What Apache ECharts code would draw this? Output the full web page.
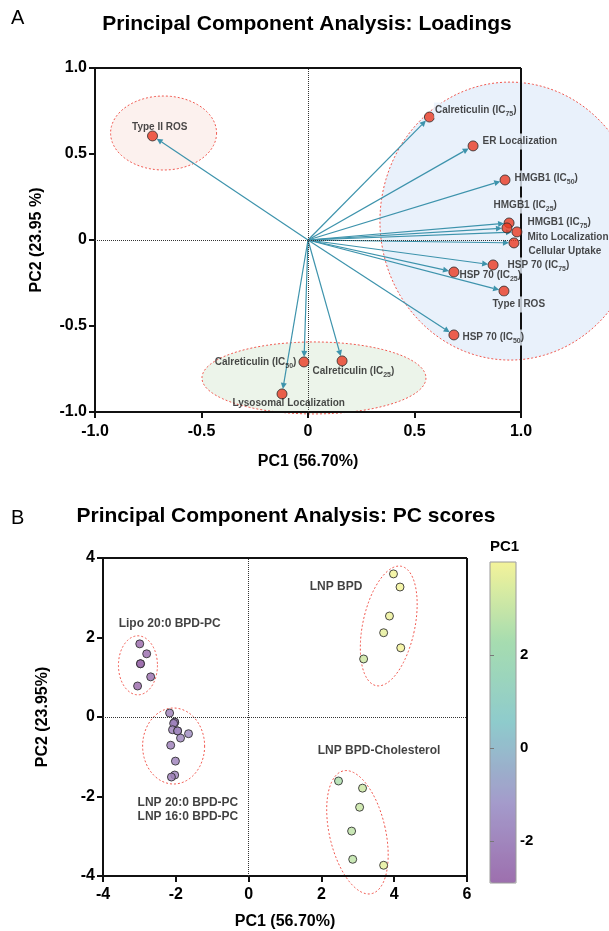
<!DOCTYPE html>
<html><head><meta charset="utf-8">
<script src="https://cdn.jsdelivr.net/npm/echarts@6/dist/echarts.min.js"></script>
<style>html,body{margin:0;padding:0;background:#fff}#c{width:609px;height:931px}</style>
</head><body><div id="c"></div>
<script>
// ---------- Panel A: loadings ----------
const loadingNames = ['Type II ROS','Calreticulin (IC75)','ER Localization','HMGB1 (IC50)','HMGB1 (IC25)','HMGB1 (IC75)','Mito Localization','Cellular Uptake','HSP 70 (IC75)','HSP 70 (IC25)','Type I ROS','HSP 70 (IC50)','Calreticulin (IC50)','Calreticulin (IC25)','Lysosomal Localization'];
const loadingPC1 = [-0.73, 0.57, 0.775, 0.925, 0.944, 0.934, 0.981, 0.967, 0.869, 0.685, 0.92, 0.685, -0.019, 0.16, -0.122];
const loadingPC2 = [0.605, 0.715, 0.547, 0.349, 0.099, 0.07, 0.047, -0.017, -0.145, -0.186, -0.297, -0.552, -0.709, -0.703, -0.895];
const loadRange = [-1, 1];

// ---------- Panel B: PC scores ----------
const lipoPC1 = [-2.99, -2.80, -2.97, -2.97, -2.69, -3.05];
const lipoPC2 = [1.84, 1.59, 1.34, 1.34, 1.01, 0.78];
const lnpPC1 = [-2.17, -2.03, -2.03, -2.06, -2.09, -1.95, -1.95, -1.65, -1.87, -2.14, -2.01, -2.03, -2.12];
const lnpPC2 = [0.10, -0.13, -0.13, -0.16, -0.32, -0.35, -0.35, -0.42, -0.53, -0.71, -1.11, -1.46, -1.51];
const bpdPC1 = [3.98, 4.16, 3.87, 3.71, 4.18, 3.16];
const bpdPC2 = [3.60, 3.27, 2.54, 2.12, 1.74, 1.46];
const cholPC1 = [2.47, 3.13, 3.05, 2.83, 2.86, 3.71];
const cholPC2 = [-1.61, -1.79, -2.27, -2.87, -3.58, -3.73];
const scoreXRange = [-4, 6];
const scoreYRange = [-4, 4];
const colorbarTicks = [-2, 0, 2];
const colorbarRange = [-2.9, 4];
const clusterNames = ['Lipo 20:0 BPD-PC', 'LNP 20:0 BPD-PC\nLNP 16:0 BPD-PC', 'LNP BPD', 'LNP BPD-Cholesterol'];

// ---------- annotation layout (kept apart from data) ----------
// [dx, dy, align, background] relative to the point centre, in pixels
const labelLayout = {
  'Type II ROS': [-20, -8, 'left', false],
  'Calreticulin (IC75)': [5, -6, 'left', true],
  'ER Localization': [9, -4, 'left', true],
  'HMGB1 (IC50)': [9, -1, 'left', true],
  'HMGB1 (IC25)': [-16, -17, 'left', true],
  'HMGB1 (IC75)': [20, -5, 'left', true],
  'Mito Localization': [10, 6, 'left', true],
  'Cellular Uptake': [14, 9, 'left', true],
  'HSP 70 (IC75)': [14, 1, 'left', true],
  'HSP 70 (IC25)': [6, 4, 'left', false],
  'Type I ROS': [-12, 14, 'left', true],
  'HSP 70 (IC50)': [8, 3, 'left', true],
  'Calreticulin (IC50)': [-7, 1, 'right', false],
  'Calreticulin (IC25)': [-29, 11, 'left', false],
  'Lysosomal Localization': [-49, 10, 'left', false]
};
const clusterLabelAnchors = [[-3.57, 2.34], [-3.05, -2.32], [1.68, 3.27], [1.90, -0.86]];
const loadEllipses = [
  {cx: -0.678, cy: 0.622, rx: 53, ry: 37, rot: 0, fill: '#fcf1ee'},
  {cx: 0.948, cy: 0.11, rx: 130, ry: 139, rot: 0, fill: '#e9f1fb'},
  {cx: 0.028, cy: -0.802, rx: 112, ry: 36, rot: 0, fill: '#ecf4ea'}
];
const scoreEllipses = [
  {cx: -3.04, cy: 1.30, rx: 19.5, ry: 29.5, rot: 0, fill: 'none'},
  {cx: -2.06, cy: -0.73, rx: 31, ry: 38, rot: 0, fill: 'none'},
  {cx: 3.85, cy: 2.29, rx: 26, ry: 61, rot: 12, fill: 'none'},
  {cx: 2.99, cy: -2.90, rx: 28, ry: 63, rot: -13, fill: 'none'}
];

const FONT = 'Liberation Sans, Arial, Helvetica, sans-serif';
const zip = (a, b) => a.map((v, i) => [v, b[i]]);

function ellipseSeries(list, xi, yi, z) {
  return {
    type: 'custom', xAxisIndex: xi, yAxisIndex: yi, z: z, silent: true, clip: false,
    data: list.map((e, i) => [e.cx, e.cy, i]),
    renderItem: function (params, api) {
      const e = list[api.value(2)];
      const c = api.coord([api.value(0), api.value(1)]);
      const a = e.rot * Math.PI / 180;
      const pts = [];
      for (let k = 0; k < 144; k++) {
        const t = k / 144 * 2 * Math.PI;
        const x = e.rx * Math.cos(t), y = e.ry * Math.sin(t);
        pts.push([c[0] + x * Math.cos(a) - y * Math.sin(a), c[1] + x * Math.sin(a) + y * Math.cos(a)]);
      }
      return {type: 'polygon', shape: {points: pts},
        style: {fill: e.fill, stroke: '#f0574e', lineWidth: 1, lineDash: [2, 2]}};
    }
  };
}

const arrowSeries = {
  type: 'custom', xAxisIndex: 0, yAxisIndex: 0, z: 3, silent: true, clip: false,
  data: zip(loadingPC1, loadingPC2),
  renderItem: function (params, api) {
    const o = api.coord([0, 0]);
    const p = api.coord([api.value(0), api.value(1)]);
    const dx = p[0] - o[0], dy = p[1] - o[1];
    const L = Math.sqrt(dx * dx + dy * dy);
    const ux = dx / L, uy = dy / L;
    const tip = [p[0] - ux * 5, p[1] - uy * 5];
    const base = [tip[0] - ux * 6, tip[1] - uy * 6];
    const nx = -uy, ny = ux;
    return {type: 'group', children: [
      {type: 'line', shape: {x1: o[0], y1: o[1], x2: base[0], y2: base[1]},
        style: {stroke: '#3d93ac', lineWidth: 1.2}},
      {type: 'polygon', shape: {points: [tip, [base[0] + nx * 3, base[1] + ny * 3], [base[0] - nx * 3, base[1] - ny * 3]]},
        style: {fill: '#3d93ac'}}
    ]};
  }
};

function richName(n) { return n.replace(/IC(\d+)/, 'IC{s|$1}'); }

const PT = 10; // loading symbol size
const loadData = loadingNames.map((n, i) => {
  const l = labelLayout[n];
  return {
    name: n, value: [loadingPC1[i], loadingPC2[i]],
    label: {position: [PT / 2 + l[0], PT / 2 + l[1]], align: l[2], verticalAlign: 'middle',
      backgroundColor: l[3] ? '#e9f1fb' : 'transparent', padding: l[3] ? [1, 1] : 0}
  };
});

// dotted zero lines plus the solid top/right frame lines (above ellipse fills, below labels)
function refLines(xr, yr) {
  const frame = {type: 'solid', color: '#111', width: 2};
  return {
    silent: true, symbol: ['none', 'none'], label: {show: false}, animation: false,
    lineStyle: {type: 'dotted', color: '#333', width: 1},
    data: [{xAxis: 0}, {yAxis: 0}, {xAxis: xr[1], lineStyle: frame}, {yAxis: yr[1], lineStyle: frame}]
  };
}

const tickLabelStyle = {fontSize: 16, fontWeight: 'bold', color: '#000', fontFamily: FONT};
const nameStyle = {fontSize: 16, fontWeight: 'bold', color: '#000', fontFamily: FONT};
const axisLineStyle = {color: '#111', width: 2};

function mainAxis(gi, range, interval, pos, name, gap, fmt, margin) {
  return {
    type: 'value', gridIndex: gi, min: range[0], max: range[1], interval: interval, position: pos, z: 4,
    axisLine: {show: true, onZero: false, lineStyle: axisLineStyle},
    axisTick: {show: true, length: 6, lineStyle: {color: '#111', width: 2}},
    axisLabel: Object.assign({margin: margin, formatter: fmt}, tickLabelStyle),
    splitLine: {show: false},
    name: name, nameLocation: 'middle', nameGap: gap, nameTextStyle: nameStyle,
    nameRotate: (pos === 'left') ? 90 : 0
  };
}
const fmtLoad = v => (v === 0 ? '0' : v.toFixed(1));
const fmtInt = v => String(v);

const scoreStyle = {borderColor: '#2b2b2b', borderWidth: 1, opacity: 0.85};
function scoreSeries(name, xs, ys) {
  return {type: 'scatter', name: name, xAxisIndex: 1, yAxisIndex: 1, z: 6, symbolSize: 8,
    itemStyle: scoreStyle, data: zip(xs, ys)};
}

const option = {
  animation: false,
  textStyle: {fontFamily: FONT},
  grid: [
    {left: 95, top: 68, width: 426, height: 344},
    {left: 103, top: 558, width: 364, height: 318},
    {left: 490, top: 562, width: 26, height: 321, show: true, borderColor: '#9a9a9a', borderWidth: 1, backgroundColor: 'transparent', z: 10}
  ],
  xAxis: [
    mainAxis(0, loadRange, 0.5, 'bottom', 'PC1 (56.70%)', 42, fmtLoad, 12),
    mainAxis(1, scoreXRange, 2, 'bottom', 'PC1 (56.70%)', 38, fmtInt, 11),
    {type: 'value', gridIndex: 2, min: 0, max: 1, show: false}
  ],
  yAxis: [
    mainAxis(0, loadRange, 0.5, 'left', 'PC2 (23.95 %)', 50, fmtLoad, 8),
    mainAxis(1, scoreYRange, 2, 'left', 'PC2 (23.95%)', 52, fmtInt, 8),
    {type: 'value', gridIndex: 2, min: colorbarRange[0], max: colorbarRange[1], position: 'right', z: 11,
      axisLine: {show: false},
      axisTick: {show: true, length: 4, customValues: colorbarTicks, lineStyle: {color: '#777'}},
      axisLabel: Object.assign({margin: 4, customValues: colorbarTicks}, tickLabelStyle, {fontSize: 15}),
      splitLine: {show: false}}
  ],
  visualMap: {
    type: 'continuous', min: colorbarRange[0], max: colorbarRange[1], dimension: 0,
    seriesIndex: [5, 6, 7, 8], calculable: false, hoverLink: false,
    itemWidth: 26, itemHeight: 321, left: 490, top: 562, padding: 0,
    inRange: {color: ['#9d6fae', '#a49bcb', '#8ecbcc', '#a6dcb0', '#f3f39a']}
  },
  graphic: [
    {type: 'text', left: 11, top: 8, style: {text: 'A', fontSize: 20, fontFamily: FONT, fill: '#000'}},
    {type: 'text', left: 11, top: 508, style: {text: 'B', fontSize: 20, fontFamily: FONT, fill: '#000'}},
    {type: 'text', x: 307, y: 24, style: {text: 'Principal Component Analysis: Loadings', fontSize: 21, fontWeight: 'bold', fontFamily: FONT, fill: '#000', align: 'center', verticalAlign: 'middle'}},
    {type: 'text', x: 286, y: 516, style: {text: 'Principal Component Analysis: PC scores', fontSize: 21, fontWeight: 'bold', fontFamily: FONT, fill: '#000', align: 'center', verticalAlign: 'middle'}},
    {type: 'text', x: 490, y: 547, style: {text: 'PC1', fontSize: 15, fontWeight: 'bold', fontFamily: FONT, fill: '#000', align: 'left', verticalAlign: 'middle'}}
  ],
  series: [
    ellipseSeries(loadEllipses, 0, 0, 1),
    arrowSeries,
    {
      type: 'scatter', xAxisIndex: 0, yAxisIndex: 0, z: 6, symbolSize: PT,
      itemStyle: {color: '#ea3a22', borderColor: '#2a2a2a', borderWidth: 1},
      label: {show: true, fontSize: 10, fontWeight: 'bold',
        color: '#1a1a1a', fontFamily: FONT, lineHeight: 14,
        formatter: p => richName(p.name),
        rich: {s: {fontSize: 7, fontWeight: 'bold', lineHeight: 7, verticalAlign: 'bottom', color: '#1a1a1a', fontFamily: FONT}}},
      markLine: refLines(loadRange, loadRange),
      data: loadData
    },
    ellipseSeries(scoreEllipses, 1, 1, 1),
    {
      type: 'scatter', xAxisIndex: 1, yAxisIndex: 1, z: 5, symbolSize: 0, silent: true,
      label: {show: true, position: 'inside', align: 'left', verticalAlign: 'middle', fontSize: 12, fontWeight: 'bold',
        color: '#111', fontFamily: FONT, lineHeight: 14, formatter: p => p.name},
      markLine: refLines(scoreXRange, scoreYRange),
      data: clusterNames.map((n, i) => ({name: n, value: clusterLabelAnchors[i]}))
    },
    scoreSeries('Lipo 20:0 BPD-PC', lipoPC1, lipoPC2),
    scoreSeries('LNP 20:0 / 16:0 BPD-PC', lnpPC1, lnpPC2),
    scoreSeries('LNP BPD', bpdPC1, bpdPC2),
    scoreSeries('LNP BPD-Cholesterol', cholPC1, cholPC2)
  ]
};

const chart = echarts.init(document.getElementById('c'), null, {renderer: 'canvas'});
chart.setOption(option);
</script>
</body></html>
